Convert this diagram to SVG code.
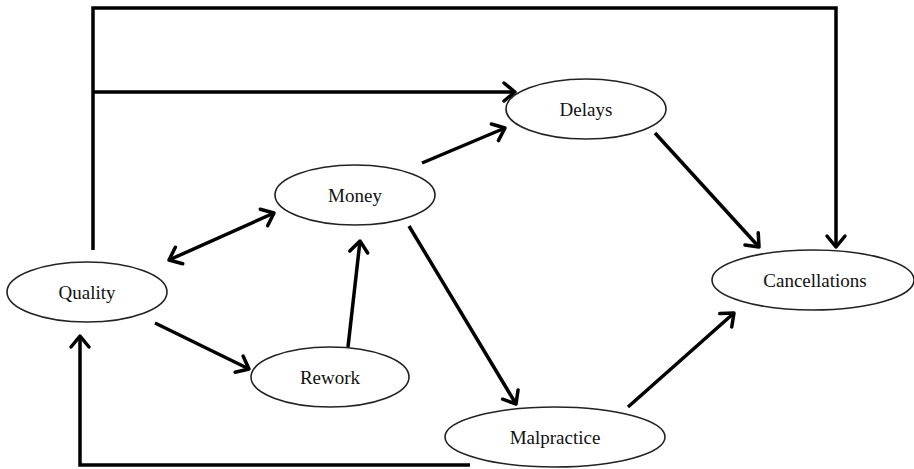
<svg xmlns="http://www.w3.org/2000/svg" width="914" height="469" viewBox="0 0 914 469">
<style>
.node ellipse{fill:#fff;stroke:#222;stroke-width:1.6}
.node text{font-family:"Liberation Serif","Times New Roman",serif;font-size:19px;fill:#111;text-anchor:middle}
.conn path,.conn line{fill:none;stroke:#000;stroke-width:3.5}
.arr{fill:none;stroke:#000;stroke-width:3.5;stroke-linecap:round;stroke-linejoin:round}
</style>
<defs>
<marker id="ah" markerUnits="userSpaceOnUse" markerWidth="30" markerHeight="30" viewBox="-16 -15 20 30" refX="0" refY="0" orient="auto-start-reverse">
<path class="arr" d="M -11 -9 L 0 0 L -11 9"/>
</marker>
</defs>
<rect width="914" height="469" fill="#fff"/>
<g class="conn">
<path d="M 93 250 L 93 8 L 836 8 L 836 247" marker-end="url(#ah)"/>
<path d="M 93 92 L 515 92" marker-end="url(#ah)"/>
<line x1="422" y1="163" x2="505" y2="128" marker-end="url(#ah)"/>
<line x1="169" y1="260" x2="274" y2="213" marker-start="url(#ah)" marker-end="url(#ah)"/>
<line x1="155" y1="323" x2="249" y2="369" marker-end="url(#ah)"/>
<line x1="348" y1="347" x2="360" y2="241" marker-end="url(#ah)"/>
<line x1="409" y1="226" x2="516" y2="404" marker-end="url(#ah)"/>
<line x1="655" y1="133" x2="759" y2="247" marker-end="url(#ah)"/>
<line x1="628" y1="407" x2="734" y2="313" marker-end="url(#ah)"/>
<path d="M 470 465 L 80 465 L 80 336" marker-end="url(#ah)"/>
</g>
<g id="delays" class="node"><ellipse cx="586" cy="109" rx="80" ry="30"/><text x="586" y="116">Delays</text></g>
<g id="money" class="node"><ellipse cx="355" cy="195" rx="80" ry="30"/><text x="355" y="202">Money</text></g>
<g id="quality" class="node"><ellipse cx="87" cy="292" rx="80" ry="30"/><text x="87" y="299">Quality</text></g>
<g id="rework" class="node"><ellipse cx="330" cy="377" rx="79" ry="30"/><text x="330" y="384">Rework</text></g>
<g id="cancellations" class="node"><ellipse cx="813" cy="280" rx="101" ry="30"/><text x="815" y="287">Cancellations</text></g>
<g id="malpractice" class="node"><ellipse cx="555" cy="437" rx="110" ry="30"/><text x="555" y="444">Malpractice</text></g>
</svg>
